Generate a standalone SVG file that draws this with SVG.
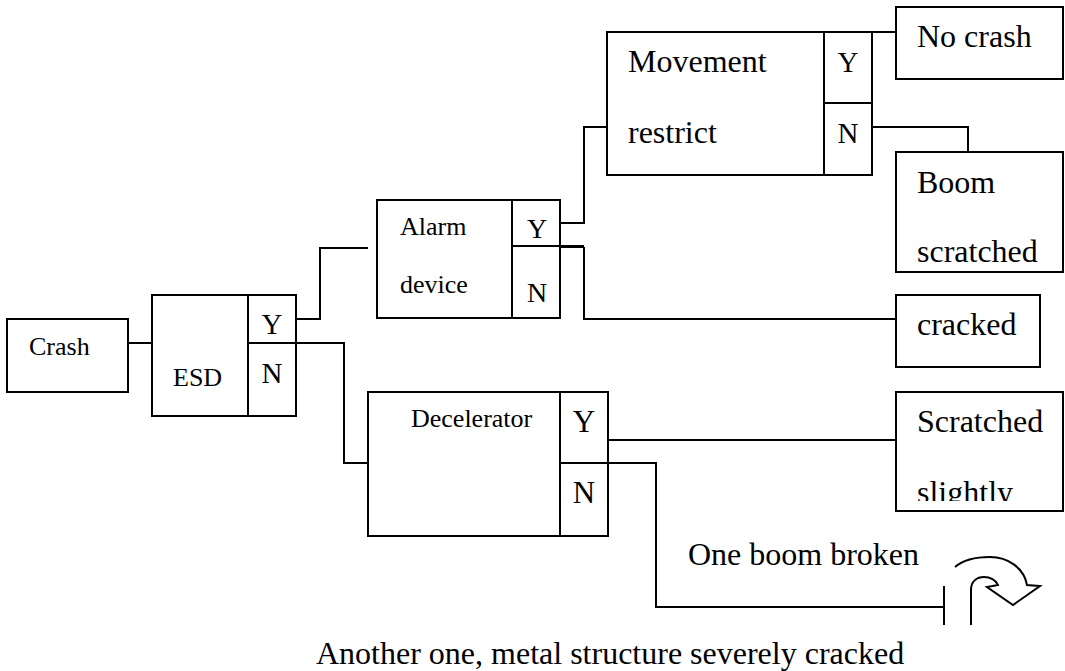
<svg xmlns="http://www.w3.org/2000/svg" width="1065" height="671" viewBox="0 0 1065 671">
<style>
.b{fill:#fff;stroke:#000;stroke-width:2}
.l{fill:none;stroke:#000;stroke-width:2}
text{font-family:"Liberation Serif","Times New Roman",serif;fill:#000}
.s{font-size:26px}
.m{font-size:32px}
.c{text-anchor:middle}
</style>
<defs>
<clipPath id="clipSlightly"><rect x="896" y="392" width="168" height="109"/></clipPath>
</defs>
<rect width="1065" height="671" fill="#fff"/>
<g id="connectors">
<path class="l" d="M128,343H152"/>
<path class="l" d="M296,319H320V248H368"/>
<path class="l" d="M296,343H344V463H368"/>
<path class="l" d="M560,223H584V127H607"/>
<path class="l" d="M584,247V319H896"/>
<path d="M521,246.5H584" stroke="#000" stroke-width="3.2" fill="none"/>
<path class="l" d="M872,32H896"/>
<path class="l" d="M872,127H968V152"/>
<path class="l" d="M608,440H896"/>
<path class="l" d="M608,463H656V607H944"/>
<path class="l" d="M944,586V625"/>
<path class="l" d="M971,625V590C971,581 977,577 984,577C990,577 996,580 998,585L987,587L1013,605L1040,586L1027,585C1024,568 1008,557 990,557C975,557 962,561 955,567"/>
</g>
<g id="crash">
<rect class="b" x="7" y="319" width="121" height="73"/>
<text class="s" x="29" y="355">Crash</text>
</g>
<g id="esd">
<rect class="b" x="152" y="295" width="144" height="121"/>
<path class="l" d="M248,295V416M248,343H296"/>
<text class="s" x="173" y="386">ESD</text>
<text class="c" font-size="29" x="272" y="334">Y</text>
<text class="c" font-size="29" x="272" y="383">N</text>
</g>
<g id="alarm">
<rect class="b" x="377" y="200" width="183" height="118"/>
<path class="l" d="M512,200V318M512,246H560"/>
<text class="s" x="400" y="235">Alarm</text>
<text class="s" x="400" y="293">device</text>
<text class="c" font-size="28" x="537" y="238">Y</text>
<text class="c" font-size="28" x="537" y="302">N</text>
</g>
<g id="movement">
<rect class="b" x="607" y="32" width="265" height="143"/>
<path class="l" d="M824,32V175M824,103H872"/>
<text class="m" x="628" y="72">Movement</text>
<text class="m" x="628" y="143">restrict</text>
<text class="c" font-size="29" x="848" y="72">Y</text>
<text class="c" font-size="29" x="848" y="143">N</text>
</g>
<g id="decelerator">
<rect class="b" x="368" y="392" width="240" height="144"/>
<path class="l" d="M560,392V536M560,463H608"/>
<text class="s" x="411" y="427">Decelerator</text>
<text class="c" font-size="31" x="584" y="432">Y</text>
<text class="c" font-size="31" x="584" y="503">N</text>
</g>
<g id="nocrash">
<rect class="b" x="896" y="7" width="167" height="72"/>
<text class="m" x="917" y="47">No crash</text>
</g>
<g id="boomscratched">
<rect class="b" x="896" y="152" width="167" height="120"/>
<text class="m" x="917" y="193">Boom</text>
<text class="m" x="917" y="262">scratched</text>
</g>
<g id="cracked">
<rect class="b" x="896" y="295" width="144" height="72"/>
<text class="m" x="917" y="335">cracked</text>
</g>
<g id="scratchedslightly">
<rect class="b" x="896" y="392" width="167" height="119"/>
<text class="m" x="917" y="432">Scratched</text>
<text class="m" x="917" y="503" clip-path="url(#clipSlightly)">slightly</text>
</g>
<g id="labels">
<text class="m" x="688" y="565">One boom broken</text>
<text class="m" x="316" y="664">Another one, metal structure severely cracked</text>
</g>
</svg>
